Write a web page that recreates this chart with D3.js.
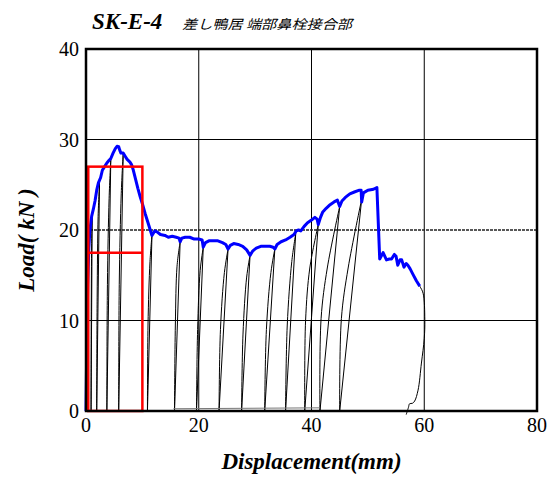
<!DOCTYPE html>
<html lang="ja">
<head>
<meta charset="UTF-8">
<title>SK-E-4</title>
<script src="https://cdn.jsdelivr.net/npm/d3@7"></script>
<style>
  body { margin: 0; background: #fff; }
  text { font-family: "Liberation Serif", "Times New Roman", serif; }
</style>
</head>
<body>
<svg width="554" height="477" id="mainsvg"></svg>
<script>
// axis ticks
const xTicks = [0, 20, 40, 60, 80];
const yTicks = [0, 10, 20, 30, 40];

// envelope (blue): displacement mm / load kN
const envX = [0, 0.15, 0.3, 0.5, 0.7, 1.0, 1.3, 1.6, 1.9, 2.2, 2.6, 2.9, 3.3, 3.7, 4.1, 4.4, 4.8, 5.2, 5.5, 5.8, 6.0, 6.2, 6.6, 7.0, 7.3, 7.8, 8.1, 8.4, 8.8, 9.2, 9.6, 10.0, 10.5, 11.0, 11.4, 11.7, 12.2, 12.6, 13.2, 14.0, 14.6, 15.3, 16.0, 16.5, 16.7, 17.0, 17.6, 18.4, 19.2, 20.0, 20.6, 20.8, 21.2, 21.8, 22.6, 23.4, 24.2, 24.8, 25.2, 25.6, 26.2, 27.0, 27.8, 28.5, 29.1, 29.6, 30.2, 31.0, 31.8, 32.6, 33.2, 33.5, 33.9, 34.6, 35.4, 36.2, 36.9, 37.3, 37.7, 38.1, 38.7, 39.3, 40.0, 40.6, 41.0, 41.2, 41.6, 42.0, 42.6, 43.3, 44.0, 44.6, 45.0, 45.4, 46.0, 46.8, 47.6, 48.5, 48.8, 48.9, 49.2, 50.0, 51.0, 51.6, 52.1, 52.7, 53.3, 53.8, 54.2, 54.7, 55.0, 55.3, 55.7, 56.0, 56.4, 56.8, 57.1, 57.5, 58.0, 58.6, 59.2];
const envY = [0, 8, 14, 18, 20, 21.5, 22.3, 23.2, 24.4, 25.2, 25.8, 26.6, 27.0, 27.4, 27.7, 27.9, 28.5, 29.0, 29.25, 29.2, 28.8, 28.5, 28.5, 28.1, 27.8, 27.5, 27.2, 26.6, 25.6, 24.6, 23.7, 22.9, 21.8, 20.8, 20.0, 19.4, 19.9, 19.8, 19.5, 19.4, 19.2, 19.3, 19.2, 19.1, 18.7, 19.1, 19.2, 19.2, 19.0, 19.0, 18.9, 18.1, 18.6, 18.8, 18.8, 18.8, 18.6, 18.4, 17.9, 18.3, 18.5, 18.4, 18.2, 17.8, 17.2, 17.7, 18.0, 18.2, 18.2, 18.2, 18.1, 17.9, 18.4, 18.7, 18.9, 19.2, 19.5, 19.9, 20.0, 19.9, 20.4, 20.8, 21.1, 21.4, 21.2, 20.6, 21.4, 22.0, 22.4, 22.8, 23.1, 23.3, 22.6, 23.2, 23.6, 24.0, 24.2, 24.4, 24.4, 23.1, 24.1, 24.4, 24.5, 24.7, 16.8, 17.5, 16.7, 16.8, 16.8, 17.3, 17.1, 16.1, 16.7, 16.7, 15.9, 16.3, 16.1, 15.7, 15.1, 14.4, 13.8];

// unloading / reloading cycles (black)
const cyclePeakX = [1.1, 2.4, 4.4, 6.6, 11.7, 16.7, 20.8, 25.2, 29.1, 33.5, 37.2, 41.2, 45.0, 48.9];
const cyclePeakY = [22.0, 25.3, 27.9, 28.5, 19.4, 18.7, 18.1, 17.9, 17.2, 17.9, 19.6, 20.6, 22.6, 23.4];
const cycleFootX = [0.9, 1.9, 3.7, 5.8, 10.9, 15.7, 19.6, 23.6, 27.6, 31.7, 35.4, 38.8, 41.5, 45.0];
const cycleKneeLo = [[0.93, 11], [1.98, 12.5], [3.8, 14], [5.9, 14], [11.0, 9.5], [15.85, 9.5], [19.8, 9], [23.85, 9], [27.85, 8.5], [32.0, 9], [35.7, 9.5], [38.95, 10], [41.7, 10.2], [45.3, 10.2]];
const cycleKneeHi = [[1.0, 18.5], [2.15, 21.5], [4.1, 23.5], [6.25, 24], [11.35, 16.5], [16.15, 16], [20.25, 15.5], [24.55, 15.3], [28.5, 14.8], [32.8, 15.3], [36.5, 16.5], [39.7, 15.8], [42.8, 15.8], [46.5, 15.8]];

// zero-load path between cycles
const zeroX = [15.5, 41.5];
const zeroY = [0.25, 0.35];

// final unloading
const finalX = [57.5, 58.4, 59.2, 59.8, 60.1, 60.0, 59.5, 58.9, 58.3, 57.9, 57.4, 57.2, 56.8];
const finalY = [15.7, 14.6, 13.8, 13.0, 10.1, 8.0, 5.3, 2.3, 1.1, 0.85, 0.8, 0.4, -0.4];

// red frame
const redBoxX = [0.4, 10];
const redBoxY = [0, 27];
const redMidY = 17.5;

const svg = d3.select('#mainsvg');
const width = +svg.attr('width');
const height = +svg.attr('height');
const margin = { top: 49, right: 17, bottom: 66, left: 86 };
const innerWidth = width - margin.left - margin.right;
const innerHeight = height - margin.top - margin.bottom;

const xScale = d3.scaleLinear().domain([0, 80]).range([0, innerWidth]);
const yScale = d3.scaleLinear().domain([0, 40]).range([innerHeight, 0]);

const g = svg.append('g')
    .attr('transform', `translate(${margin.left},${margin.top})`);

// grid
g.selectAll('.vgrid').data(xTicks.slice(1, -1)).enter().append('line')
    .attr('x1', d => xScale(d)).attr('x2', d => xScale(d))
    .attr('y1', 0).attr('y2', innerHeight)
    .attr('stroke', '#000').attr('stroke-width', 1);
g.selectAll('.hgrid').data(yTicks.slice(1, -1)).enter().append('line')
    .attr('x1', 0).attr('x2', innerWidth)
    .attr('y1', d => yScale(d)).attr('y2', d => yScale(d))
    .attr('stroke', d => d === 20 ? '#222' : '#000')
    .attr('stroke-dasharray', d => d === 20 ? '3,1' : null)
    .attr('stroke-width', d => d === 20 ? 1.3 : 1);

const line = d3.line().x(d => xScale(d[0])).y(d => yScale(d[1]));
const curve = d3.line().x(d => xScale(d[0])).y(d => yScale(d[1])).curve(d3.curveCatmullRom);

// cycles
cyclePeakX.forEach((px, i) => {
    const peak = [px, cyclePeakY[i]];
    const foot = [cycleFootX[i], 0];
    g.append('path').attr('d', line([peak, foot]))
        .attr('fill', 'none').attr('stroke', '#000').attr('stroke-width', 1);
    g.append('path').attr('d', curve([foot, cycleKneeLo[i], cycleKneeHi[i], peak]))
        .attr('fill', 'none').attr('stroke', '#000').attr('stroke-width', 1);
});

g.append('path').attr('d', line(zeroX.map((x, i) => [x, zeroY[i]])))
    .attr('fill', 'none').attr('stroke', '#777').attr('stroke-width', 1);

g.append('path').attr('d', curve(finalX.map((x, i) => [x, finalY[i]])))
    .attr('fill', 'none').attr('stroke', '#000').attr('stroke-width', 1);

// envelope
g.append('path').attr('d', line(envX.map((x, i) => [x, envY[i]])))
    .attr('fill', 'none').attr('stroke', '#0000ff').attr('stroke-width', 3)
    .attr('stroke-linejoin', 'round');

// red frame
g.append('rect')
    .attr('x', xScale(redBoxX[0])).attr('y', yScale(redBoxY[1]))
    .attr('width', xScale(redBoxX[1]) - xScale(redBoxX[0]))
    .attr('height', yScale(redBoxY[0]) - yScale(redBoxY[1]))
    .attr('fill', 'none').attr('stroke', '#ff0000').attr('stroke-width', 2.5);
g.append('line')
    .attr('x1', xScale(redBoxX[0])).attr('x2', xScale(redBoxX[1]))
    .attr('y1', yScale(redMidY)).attr('y2', yScale(redMidY))
    .attr('stroke', '#ff0000').attr('stroke-width', 2.5);

// frame
g.append('rect').attr('x', 0).attr('y', 0)
    .attr('width', innerWidth).attr('height', innerHeight)
    .attr('fill', 'none').attr('stroke', '#000').attr('stroke-width', 2.5);

// tick labels
g.selectAll('.xl').data(xTicks).enter().append('text')
    .attr('x', d => xScale(d)).attr('y', innerHeight + 21)
    .attr('text-anchor', 'middle').attr('font-size', 20).text(d => d);
g.selectAll('.yl').data(yTicks).enter().append('text')
    .attr('x', -7).attr('y', d => yScale(d) + 7)
    .attr('text-anchor', 'end').attr('font-size', 20).text(d => d);

// axis titles
g.append('text')
    .attr('x', innerWidth / 2).attr('y', innerHeight + 58)
    .attr('text-anchor', 'middle').attr('font-size', 23)
    .attr('font-weight', 'bold').attr('font-style', 'italic')
    .text('Displacement(mm)');
g.append('text')
    .attr('transform', `translate(${-52},${innerHeight / 2 + 10}) rotate(-90)`)
    .attr('text-anchor', 'middle').attr('font-size', 23)
    .attr('font-weight', 'bold').attr('font-style', 'italic')
    .text('Load( kN )');

// title
svg.append('text').attr('x', 92).attr('y', 29)
    .attr('font-size', 23).attr('font-weight', 'bold').attr('font-style', 'italic')
    .text('SK-E-4');
svg.append('text').attr('x', 182).attr('y', 29)
    .attr('font-size', 13).attr('font-style', 'italic')
    .style('font-family', '"Noto Sans CJK JP", sans-serif')
    .attr('textLength', 170).attr('lengthAdjust', 'spacingAndGlyphs')
    .text('差し鴨居 端部鼻栓接合部');
</script>
</body>
</html>
